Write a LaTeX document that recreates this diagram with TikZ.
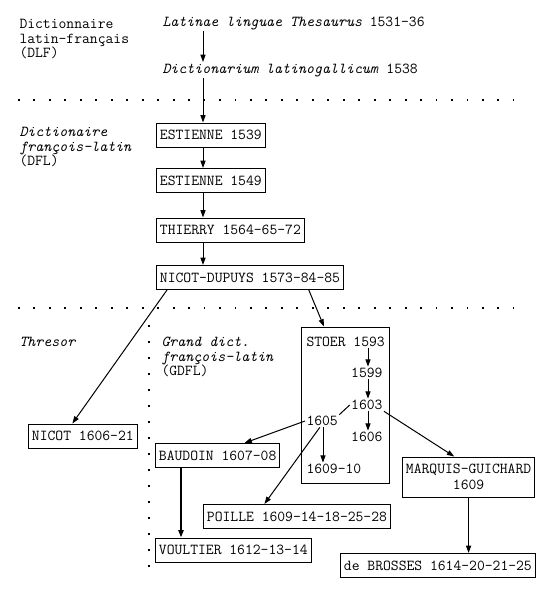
\documentclass[tikz,border=0pt]{standalone}
\usepackage{fontspec}
\setmainfont{Latin Modern Mono}
\usetikzlibrary{arrows.meta}

\tikzset{every picture/.style={line width=0.75pt}}
\tikzset{
  lbl/.style={anchor=west, inner sep=0.75pt, align=left},
  dict/.style={draw, anchor=west, inner xsep=2.6pt, inner ysep=0pt, minimum height=18pt},
  arr/.style={-{Triangle[length=5.5pt,width=3.8pt]}},
  hsep/.style={line width=1.4pt, dash pattern=on 1.4pt off 10.2pt},
  vsep/.style={line width=1.4pt, dash pattern=on 1.4pt off 10.6pt},
}

\begin{document}
\begin{tikzpicture}[x=0.75pt,y=0.75pt,yscale=-1,xscale=1]
		\useasboundingbox (0,0) rectangle (557,597);
		\fontsize{11.4}{11}\selectfont

		% spines for the vertical arrows
		\coordinate (spine) at (203,0);
		\coordinate (gdflspine) at (181,0);
		\coordinate (stoerleft) at (323,0);
		\coordinate (stoerright) at (368,0);

		% Separators
		\draw [hsep] (18,100) -- (514,100) ;
		\draw [hsep] (18,308) -- (514,308) ;
		\draw [vsep] (149,325) -- (149,567) ;

		% Section labels
		\node [lbl] (dlf) at (18,39) {Dictionnaire\\latin-français\\(DLF)};
		\node [lbl] (dfl) at (18,147) {\textit{Dictionaire}\\\textit{françois-latin}\\(DFL)};
		\node [lbl] (thresor) at (18,342) {\textit{Thresor}};
		\node [lbl] (gdfl) at (160,357) {\textit{Grand dict.}\\\textit{françois-latin}\\(GDFL)};

		% DLF
		\node [lbl] (latinae) at (161,23) {\textit{Latinae linguae Thesaurus} 1531-36};
		\node [lbl] (dictionarium) at (161,70) {\textit{Dictionarium latinogallicum} 1538};

		% DFL
		\node [dict] (estienneA) at (156,135) {ESTIENNE 1539};
		\node [dict] (estienneB) at (156,180.5) {ESTIENNE 1549};
		\node [dict] (thierry) at (156,230) {THIERRY 1564-65-72};
		\node [dict] (nicotdupuys) at (156,277.5) {NICOT-DUPUYS 1573-84-85};

		% Thresor and GDFL
		\node [dict] (nicot) at (28,436) {NICOT 1606-21};
		\node [dict] (baudoin) at (155,455.5) {BAUDOIN 1607-08};
		\node [dict] (poille) at (203,516.5) {POILLE 1609-14-18-25-28};
		\node [dict] (voultier) at (155,550) {VOULTIER 1612-13-14};
		\node [dict, align=center, minimum height=30pt, font=\fontsize{11.4}{12}\selectfont] (marquis) at (402,477) {MARQUIS-GUICHARD\\1609};
		\node [dict] (brosses) at (340,565.5) {de BROSSES 1614-20-21-25};

		% STOER editions
		\node [draw, minimum width=66pt, minimum height=117pt] (stoer) at (345,405) {};
		\node [lbl] (s1593) at (305,342) {STOER 1593};
		\node [lbl, anchor=east] (s1599) at (384,373) {1599};
		\node [lbl, anchor=east] (s1603) at (384,405) {1603};
		\node [lbl] (s1605) at (305,421) {1605};
		\node [lbl, anchor=east] (s1606) at (384,437) {1606};
		\node [lbl] (s1609) at (305,469) {1609-10};

		% Arrows
		\draw [arr] (spine |- latinae.south) -- (spine |- dictionarium.north) ;
		\draw [arr] (spine |- dictionarium.south) -- (spine |- estienneA.north) ;
		\draw [arr] (spine |- estienneA.south) -- (spine |- estienneB.north) ;
		\draw [arr] (spine |- estienneB.south) -- (spine |- thierry.north) ;
		\draw [arr] (spine |- thierry.south) -- (spine |- nicotdupuys.north) ;
		\draw [arr] ([xshift=8.25pt]nicotdupuys.south west) -- (nicot.130) ;
		\draw [arr] (nicotdupuys.-12) -- (stoer.105) ;
		\draw [arr] (stoerright |- s1593.south) -- (stoerright |- s1599.north) ;
		\draw [arr] (stoerright |- s1599.south) -- (stoerright |- s1603.north) ;
		\draw [arr] (stoerright |- s1603.south) -- (stoerright |- s1606.north) ;
		\draw (s1603.west) -- (s1605.north east) ;
		\draw [arr] (stoerleft |- s1605.south) -- (stoerleft |- s1609.north) ;
		\draw [arr] (s1605.west) -- (baudoin.25) ;
		\draw [arr] (s1605.-110) -- (poille.159) ;
		\draw [arr] (s1603.south east) -- (marquis.125) ;
		\draw [arr] (marquis.south) -- (marquis.south |- brosses.north) ;
		\draw [arr, line width=1.5pt] (gdflspine |- baudoin.south) -- (gdflspine |- voultier.north) ;

	\end{tikzpicture}
\end{document}
